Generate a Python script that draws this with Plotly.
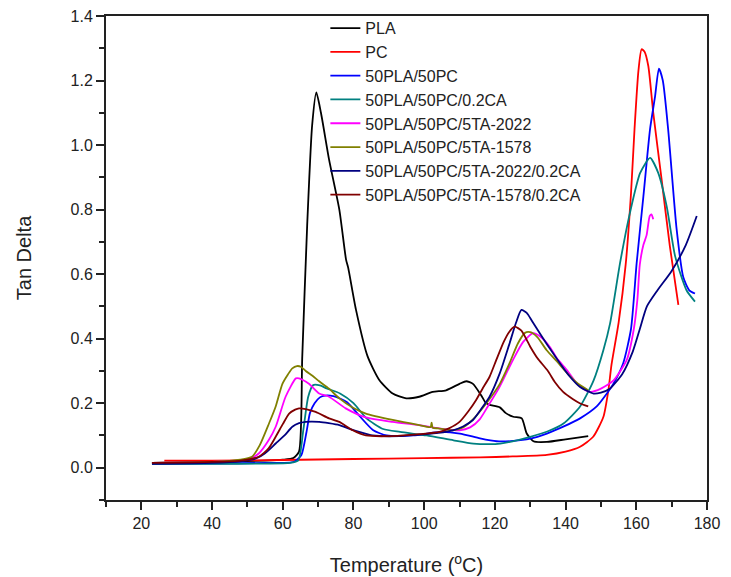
import plotly.graph_objects as go

# ---- data ----
pla_x = [23, 40, 55, 60, 63, 64.6, 65.5, 66.9, 68.3, 69.5, 70.8, 73.1, 76, 77.9, 78.5, 80.7, 84, 87.3,
         91.1, 94.9, 98.6, 102.4, 106.2, 110, 111.9, 113.8, 116.1, 117.5, 118.5, 121.4, 123, 125.2,
         127.6, 129, 130.9, 134.7, 140, 146.4]
pla_y = [0.015, 0.018, 0.022, 0.025, 0.03, 0.05, 0.34, 0.75, 1.06, 1.163, 1.10, 0.955, 0.80, 0.645,
         0.62, 0.49, 0.345, 0.272, 0.23, 0.215, 0.22, 0.235, 0.24, 0.26, 0.268, 0.26, 0.225, 0.20,
         0.195, 0.187, 0.17, 0.158, 0.153, 0.106, 0.082, 0.08, 0.088, 0.098]

pc_x = [26.5, 40, 60, 80, 100, 115.8, 125, 134.7, 140, 144.1, 147.8, 150.7, 152.1, 153, 155, 157,
        158.5, 159.5, 160.6, 161.5, 162.3, 163.4, 164.8, 167.2, 169.5, 171.9]
pc_y = [0.022, 0.022, 0.024, 0.027, 0.03, 0.032, 0.035, 0.04, 0.05, 0.065, 0.096, 0.158, 0.24, 0.32,
        0.45, 0.63, 0.85, 1.05, 1.23, 1.297, 1.29, 1.245, 1.10, 0.89, 0.686, 0.505]

b_x = [23, 40, 55, 62, 63.5, 65.3, 66.7, 67.7, 69, 70.5, 71.5, 74.3, 78.1, 81.9, 85.6, 89.4, 96.9,
       104.5, 110.1, 115.8, 120.5, 125.2, 130, 134.7, 139.5, 144.1, 148.8, 151, 153.5, 156.3, 158.5,
       160.1, 162, 163.9, 165.3, 166.4, 167.5, 169, 171.4, 173.3, 175, 176.6]
b_y = [0.012, 0.013, 0.015, 0.016, 0.02, 0.04, 0.11, 0.17, 0.20, 0.218, 0.223, 0.222, 0.204, 0.158,
       0.116, 0.10, 0.10, 0.111, 0.106, 0.091, 0.082, 0.083, 0.09, 0.106, 0.128, 0.153, 0.19, 0.22,
       0.26, 0.324, 0.43, 0.634, 0.84, 1.05, 1.15, 1.237, 1.2, 1.05, 0.74, 0.59, 0.55, 0.54]

ca_x = [23, 40, 55, 62, 64.4, 65.8, 67.2, 68.6, 70.5, 72.4, 76.2, 80, 83.7, 88.4, 93.2, 100.7, 108.3,
        113.9, 118.6, 121.5, 125, 130, 135, 139.4, 144.1, 147.9, 150.7, 152.6, 155.4, 158.2, 161.1,
        163.9, 166.2, 168.6, 171, 174.2, 176.6]
ca_y = [0.012, 0.012, 0.013, 0.015, 0.023, 0.116, 0.22, 0.256, 0.255, 0.246, 0.23, 0.20, 0.153, 0.12,
        0.111, 0.10, 0.085, 0.075, 0.073, 0.075, 0.082, 0.096, 0.113, 0.137, 0.19, 0.27, 0.365, 0.448,
        0.634, 0.79, 0.914, 0.96, 0.914, 0.81, 0.655, 0.55, 0.515]

ta2022_x = [23, 40, 50, 53.2, 56, 58, 60.8, 63.7, 64.6, 67.4, 70.3, 73.1, 77.8, 83.5, 91.1, 98.6,
            104.3, 110, 113, 115.7, 118, 121.3, 125.1, 128, 130.8, 133, 135.5, 137.5, 140.2, 143.1,
            145, 147, 150, 153.5, 157.3, 159.3, 160.3, 161, 162, 162.9, 163.8, 164.3, 164.8]
ta2022_y = [0.015, 0.018, 0.025, 0.044, 0.085, 0.127, 0.22, 0.277, 0.277, 0.26, 0.23, 0.22, 0.184,
            0.156, 0.142, 0.132, 0.122, 0.116, 0.125, 0.15, 0.19, 0.25, 0.334, 0.39, 0.417, 0.405,
            0.375, 0.34, 0.305, 0.262, 0.245, 0.235, 0.245, 0.27, 0.334, 0.43, 0.52, 0.63, 0.69,
            0.72, 0.78, 0.785, 0.77]

ta1578_x = [23, 40, 48, 51.3, 53.5, 56.1, 58, 59.9, 61.5, 62.7, 64, 65.1, 66.5, 68.4, 70.3, 73.1, 76,
            80, 83.5, 91.1, 98.6, 101.8, 102.1, 102.4, 104, 108.1, 111, 113.8, 117.6, 121.4, 124,
            126.5, 128.5, 130, 132, 134.6, 137.5, 140.3, 143, 146.4]
ta1578_y = [0.015, 0.018, 0.025, 0.034, 0.07, 0.137, 0.19, 0.26, 0.29, 0.308, 0.315, 0.313, 0.30,
            0.285, 0.268, 0.245, 0.215, 0.185, 0.168, 0.148, 0.132, 0.126, 0.14, 0.124, 0.122, 0.116,
            0.125, 0.15, 0.2, 0.26, 0.32, 0.385, 0.418, 0.42, 0.405, 0.365, 0.33, 0.295, 0.265, 0.24]

ta2022ca_x = [23, 40, 48, 52.3, 55, 58, 60.5, 62.7, 64.6, 66.5, 68, 70.3, 73, 76, 78.5, 81.6, 85.4,
              93, 100.5, 104, 108.1, 111, 113.8, 116, 118.5, 121.4, 124, 126, 127.5, 129, 130.5,
              132.7, 135.5, 138.4, 141, 144.1, 147.9, 150, 152.5, 156, 159, 161, 163, 166, 170, 174,
              177.1]
ta2022ca_y = [0.012, 0.015, 0.02, 0.028, 0.045, 0.075, 0.1, 0.127, 0.138, 0.142, 0.143, 0.142, 0.138,
              0.132, 0.122, 0.111, 0.10, 0.098, 0.104, 0.108, 0.116, 0.128, 0.148, 0.18, 0.22, 0.293,
              0.38, 0.45, 0.489, 0.48, 0.455, 0.417, 0.37, 0.324, 0.285, 0.25, 0.23, 0.233, 0.245,
              0.29, 0.36, 0.43, 0.5, 0.55, 0.61, 0.69, 0.78]

ta1578ca_x = [23, 40, 48, 53.2, 56, 58, 60, 61.8, 63.5, 64.6, 66.5, 69.3, 73.1, 76, 79.8, 83.5, 91.1,
              98.6, 104.3, 107, 110, 112.5, 114.7, 116.5, 118.5, 120.4, 122.5, 124, 125.6, 127.5,
              130, 132, 135, 137, 139.3, 142, 144, 146.4]
ta1578ca_y = [0.015, 0.018, 0.022, 0.034, 0.06, 0.096, 0.135, 0.168, 0.18, 0.184, 0.182, 0.173, 0.153,
              0.142, 0.116, 0.10, 0.098, 0.104, 0.111, 0.122, 0.142, 0.175, 0.21, 0.245, 0.282, 0.334,
              0.39, 0.42, 0.437, 0.425, 0.375, 0.34, 0.30, 0.265, 0.235, 0.213, 0.2, 0.19]

series = [
    ("PLA", pla_x, pla_y, "#000000"),
    ("PC", pc_x, pc_y, "#FF0000"),
    ("50PLA/50PC", b_x, b_y, "#0000FF"),
    ("50PLA/50PC/0.2CA", ca_x, ca_y, "#008080"),
    ("50PLA/50PC/5TA-2022", ta2022_x, ta2022_y, "#FF00FF"),
    ("50PLA/50PC/5TA-1578", ta1578_x, ta1578_y, "#808000"),
    ("50PLA/50PC/5TA-2022/0.2CA", ta2022ca_x, ta2022ca_y, "#000080"),
    ("50PLA/50PC/5TA-1578/0.2CA", ta1578ca_x, ta1578ca_y, "#800000"),
]

x_ticks = [20, 40, 60, 80, 100, 120, 140, 160, 180]
y_ticks = [0.0, 0.2, 0.4, 0.6, 0.8, 1.0, 1.2, 1.4]

fig = go.Figure()
for name, xs, ys, col in series:
    fig.add_trace(go.Scatter(x=xs, y=ys, mode="lines", name=name,
                             line=dict(color=col, width=1.8, shape="spline", smoothing=0.6)))

font = "Liberation Sans, Arial, sans-serif"
fig.update_layout(
    width=731, height=577,
    margin=dict(l=106, r=24, t=16, b=77, autoexpand=False),
    paper_bgcolor="white", plot_bgcolor="white",
    font=dict(family=font, color="#222222"),
    showlegend=True,
    legend=dict(x=0.365, y=1.01, xanchor="left", yanchor="top",
                bgcolor="rgba(0,0,0,0)", font=dict(size=16, family=font, color="#222222"),
                itemwidth=30),
    xaxis=dict(range=[10, 180], tickvals=x_ticks, ticks="outside", ticklen=8, tickwidth=2,
               tickcolor="#222222", showline=True, linewidth=2, linecolor="#222222", mirror=True,
               showgrid=False, zeroline=False, tickfont=dict(size=16), automargin=False,
               minor=dict(dtick=10, tick0=0, ticks="outside", ticklen=5, tickwidth=2, tickcolor="#222222"),
               title=dict(text="Temperature (<sup>o</sup>C)", font=dict(size=20), standoff=27)),
    yaxis=dict(range=[-0.1, 1.4], tickvals=y_ticks, tickformat=".1f", ticks="outside", ticklen=8,
               tickwidth=2, tickcolor="#222222", showline=True, linewidth=2, linecolor="#222222",
               mirror=True, showgrid=False, zeroline=False, tickfont=dict(size=16), automargin=False,
               minor=dict(dtick=0.1, tick0=0, ticks="outside", ticklen=5, tickwidth=2, tickcolor="#222222"),
               title=dict(text="Tan Delta", font=dict(size=20), standoff=34)),
)

fig.write_html("out.html", config={"displayModeBar": False},
               post_script="document.body.style.margin='0';document.body.style.padding='0';")
